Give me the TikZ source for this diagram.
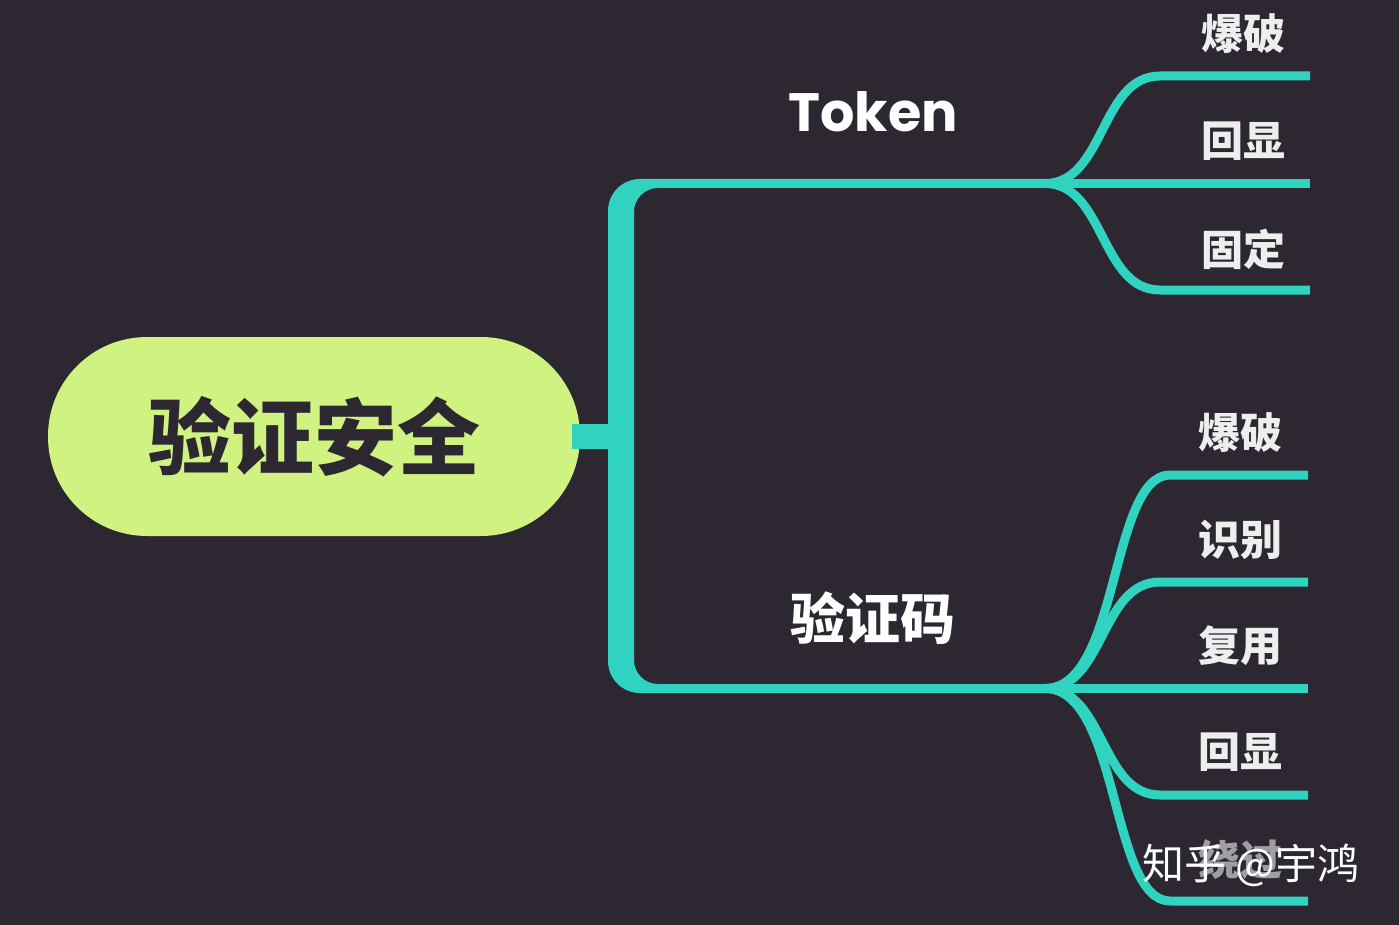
\documentclass[tikz,border=0pt]{standalone}
\usepackage{fontspec}
\newfontfamily\cjk{Noto Sans CJK SC}
\newfontfamily\pop{Poppins}
\definecolor{bgc}{RGB}{44,39,49}
\definecolor{tealc}{RGB}{47,211,192}
\definecolor{greenc}{RGB}{207,242,128}
\definecolor{leafc}{RGB}{238,238,238}
\tikzset{
  rootnode/.style={shape=rectangle, rounded corners=99pt, fill=greenc, minimum width=532pt, minimum height=199pt, inner sep=0pt, text=bgc, font=\cjk\bfseries\fontsize{83}{88}\selectfont},
  branchlabel/.style={text=white, inner sep=0pt},
  leaflabel/.style={text=leafc, inner sep=0pt, font=\cjk\bfseries\fontsize{42}{46}\selectfont},
  edge/.style={draw=tealc, line width=9pt},
  wmark/.style={text=white, inner sep=0pt, font=\cjk\fontsize{42}{46}\selectfont}
}
\begin{document}
\begin{tikzpicture}[x=1pt,y=-1pt]
\useasboundingbox (0,0) rectangle (1399,925);
\fill[bgc] (0,0) rectangle (1399,925);

% root
\node[rootnode] (root) at (314,436.5) {验证安全};

% branch labels
\node[branchlabel, font=\pop\bfseries\fontsize{54}{58}\selectfont] (token) at (873,112) {Token};
\node[branchlabel, font=\cjk\bfseries\fontsize{55}{60}\selectfont] (vcode) at (873,618) {验证码};

% junctions
\coordinate (trunk) at (621,436.5);
\coordinate (jt) at (1045,183.5);
\coordinate (jv) at (1045,688.5);

% stub root -> trunk
\draw[tealc, line width=25pt] ([xshift=-8pt]root.east) -- (trunk);

% trunk (connector root -> Token / 验证码)
\fill[tealc] (1046,179) -- (640,179) .. controls (622.3,179) and (608,193.3) .. (608,211)
  -- (608,661) .. controls (608,678.7) and (622.3,693) .. (640,693) -- (1046,693)
  -- (1046,684) -- (658,684) .. controls (644.7,684) and (634,673.3) .. (634,660)
  -- (634,212) .. controls (634,198.7) and (644.7,188) .. (658,188) -- (1046,188) -- cycle;

% Token leaves
\coordinate (t1) at (1310,76);
\coordinate (t2) at (1310,183.5);
\coordinate (t3) at (1310,290);
\draw[edge] (jt) .. controls (1105,183.5) and (1100,76) .. (1160,76) -- (t1);
\draw[edge] (jt) -- (t2);
\draw[edge] (jt) .. controls (1105,183.5) and (1100,290) .. (1160,290) -- (t3);
\node[leaflabel] (tl1) at (1243,34) {爆破};
\node[leaflabel] (tl2) at (1243,141) {回显};
\node[leaflabel] (tl3) at (1243,249) {固定};

% 验证码 leaves
\coordinate (v1) at (1308,475);
\coordinate (v2) at (1308,582);
\coordinate (v3) at (1308,688.5);
\coordinate (v4) at (1308,795);
\coordinate (v5) at (1308,901);
\draw[edge] (jv) .. controls (1120,688.5) and (1110,475) .. (1170,475) -- (v1);
\draw[edge] (jv) .. controls (1105,688.5) and (1100,582) .. (1160,582) -- (v2);
\draw[edge] (jv) -- (v3);
\draw[edge] (jv) .. controls (1105,688.5) and (1100,795) .. (1160,795) -- (v4);
\draw[edge] (jv) .. controls (1120,688.5) and (1110,901) .. (1170,901) -- (v5);
\node[leaflabel] (vl1) at (1240,433) {爆破};
\node[leaflabel] (vl2) at (1240,540) {识别};
\node[leaflabel] (vl3) at (1240,646) {复用};
\node[leaflabel] (vl4) at (1240,752) {回显};
\node[leaflabel, opacity=0.6] (vl5) at (1240,860) {绕过};

% watermark
\node[wmark] (wm) at (1251,865) {知乎 @宇鸿};
\end{tikzpicture}
\end{document}
